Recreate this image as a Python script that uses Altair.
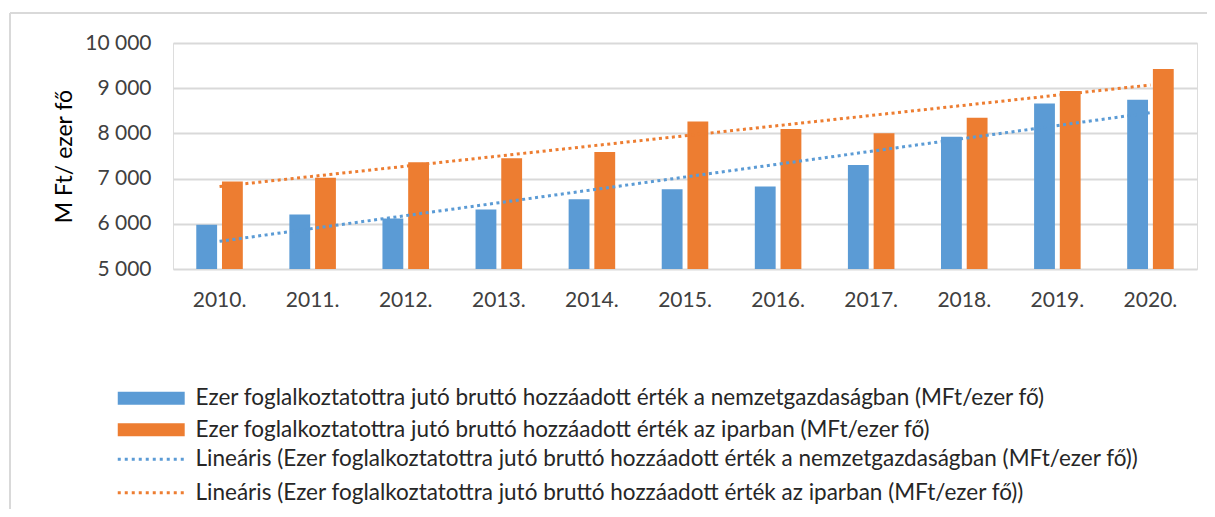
import altair as alt
import pandas as pd

years = [2010, 2011, 2012, 2013, 2014, 2015, 2016, 2017, 2018, 2019, 2020]
year_labels = [f"{y}." for y in years]
nemzetgazdasag = [5980, 6205, 6120, 6315, 6545, 6765, 6825, 7300, 7925, 8660, 8745]
ipar = [6935, 7020, 7360, 7450, 7590, 8265, 8095, 8005, 8345, 8940, 9425]

s1 = "Ezer foglalkoztatottra jutó bruttó hozzáadott érték a nemzetgazdaságban (MFt/ezer fő)"
s2 = "Ezer foglalkoztatottra jutó bruttó hozzáadott érték az iparban (MFt/ezer fő)"
t1 = "Lineáris (" + s1 + ")"
t2 = "Lineáris (" + s2 + ")"
y_title = "M Ft/ ezer fő"
y_ticks = [5000, 6000, 7000, 8000, 9000, 10000]

BLUE = "#5B9BD5"
ORANGE = "#ED7D31"
FONT = "Lato"

rows = []
for y, lab, a, b in zip(years, year_labels, nemzetgazdasag, ipar):
    rows.append({"year": y, "label": lab, "series": s1, "value": a})
    rows.append({"year": y, "label": lab, "series": s2, "value": b})
df = pd.DataFrame(rows)

xscale = alt.Scale(type="band", domain=year_labels, paddingInner=0.5, paddingOuter=0.25)
yscale = alt.Scale(domain=[5000, 10000], zero=False, nice=False)

legend_common = dict(title=None, orient="none", labelFontSize=22.5, labelFont=FONT,
                     labelColor="#262626", labelOffset=60, labelLimit=1100, padding=0,
                     symbolSize=169)

base = alt.Chart(df)

bars = base.mark_bar().encode(
    x=alt.X("label:N", scale=xscale, sort=year_labels,
            axis=alt.Axis(title=None, labelAngle=0, domain=False, ticks=False,
                          labelPadding=20, labelFontSize=21, labelColor="#404040",
                          labelFont=FONT)),
    xOffset=alt.XOffset("series:N", sort=[s1, s2], scale=alt.Scale(paddingInner=0.19, paddingOuter=0)),
    y=alt.Y("value:Q", scale=yscale,
            axis=alt.Axis(title=y_title, values=y_ticks, domain=False, ticks=False,
                          labelExpr="replace(format(datum.value, ','), ',', ' ')",
                          labelFontSize=21, labelColor="#404040", labelFont=FONT,
                          labelPadding=22, titleFontSize=23, titleFont=FONT,
                          titleColor="#000000", titleFontWeight="normal", titlePadding=8,
                          gridColor="#D9D9D9", gridWidth=2)),
    y2=alt.datum(5000),
    color=alt.Color("series:N", scale=alt.Scale(domain=[s1, s2], range=[BLUE, ORANGE]),
                    legend=alt.Legend(legendX=-60, legendY=344, rowPadding=8.5,
                                      symbolType="M-1,-1H9.3V1H-1Z",
                                      symbolStrokeWidth=0, **legend_common)),
)

trend = base.transform_regression(
    "year", "value", groupby=["series"], method="linear"
).transform_calculate(
    label="toString(datum.year) + '.'",
    trend="'Lineáris (' + datum.series + ')'",
).mark_line(strokeWidth=3, strokeDash=[3, 3.5]).encode(
    x=alt.X("label:N", scale=xscale, sort=year_labels, bandPosition=0.5),
    y=alt.Y("value:Q", scale=yscale),
    stroke=alt.Stroke("trend:N", scale=alt.Scale(domain=[t1, t2], range=[BLUE, ORANGE]),
                      legend=alt.Legend(legendX=-60, legendY=405, rowPadding=10.5,
                                        symbolType="M-1,0H9.3",
                                        symbolStrokeWidth=3, symbolDash=[3, 4],
                                        **legend_common)),
)

frame_left = alt.Chart(df).mark_rule(color="#D9D9D9", strokeWidth=2).encode(
    x=alt.value(-163), y=alt.value(-30), y2=alt.value(480))
frame_top = alt.Chart(df).mark_rule(color="#D9D9D9", strokeWidth=2).encode(
    x=alt.value(-163), x2=alt.value(1045), y=alt.value(-30))

chart = alt.layer(frame_left, frame_top, bars, trend).resolve_scale(
    color="independent", stroke="independent"
).properties(
    width=1024, height=226,
    autosize=alt.AutoSizeParams(type="none"),
    padding={"left": 165, "top": 35, "right": 10, "bottom": 240},
).configure_view(stroke=None).configure(background="white")

chart.save("out.html", embed_options={"renderer": "svg", "actions": False})
